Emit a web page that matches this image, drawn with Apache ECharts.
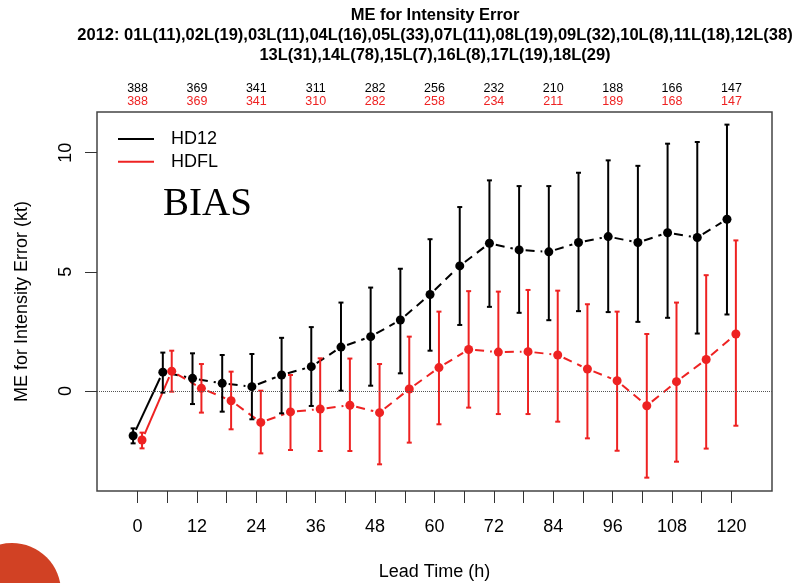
<!DOCTYPE html>
<html>
<head>
<meta charset="utf-8">
<script src="https://cdn.jsdelivr.net/npm/echarts@6/dist/echarts.min.js"></script>
<style>
html,body{margin:0;padding:0;background:#fff;}
#main{width:798px;height:583px;}
</style>
</head>
<body>
<div id="main"></div>
<script>
// lead times (h) for each verification point
var leadTimes = [0, 6, 12, 18, 24, 30, 36, 42, 48, 54, 60, 66, 72, 78, 84, 90, 96, 102, 108, 114, 120];

// HD12 mean error and its bar ends
var hd12Mean = [-1.88, 0.79, 0.53, 0.32, 0.18, 0.67, 1.02, 1.84, 2.28, 2.98, 4.05, 5.25, 6.20, 5.92, 5.84, 6.23, 6.48, 6.23, 6.64, 6.44, 7.21];
var hd12Low  = [-2.20, -0.07, -0.55, -0.87, -1.19, -0.94, -0.63, 0.01, 0.22, 0.74, 1.69, 2.77, 3.53, 3.28, 2.97, 3.35, 3.31, 2.90, 3.07, 2.41, 3.21];
var hd12High = [-1.57, 1.61, 1.58, 1.51, 1.55, 2.23, 2.68, 3.71, 4.34, 5.13, 6.37, 7.72, 8.84, 8.60, 8.60, 9.16, 9.68, 9.45, 10.38, 10.45, 11.18];

// HDFL mean error and its bar ends
var hdflMean = [-2.06, 0.83, 0.11, -0.41, -1.32, -0.88, -0.76, -0.60, -0.91, 0.08, 0.98, 1.74, 1.63, 1.65, 1.51, 0.92, 0.43, -0.62, 0.39, 1.32, 2.39];
var hdflLow  = [-2.41, -0.03, -0.91, -1.61, -2.62, -2.48, -2.52, -2.52, -3.08, -2.17, -1.40, -0.70, -0.97, -0.97, -1.29, -1.99, -2.51, -3.64, -2.97, -2.42, -1.46];
var hdflHigh = [-1.75, 1.69, 1.13, 0.81, 0.01, 0.67, 1.37, 1.36, 1.13, 2.28, 3.33, 4.19, 4.17, 4.24, 4.21, 3.64, 3.33, 2.39, 3.71, 4.86, 6.32];

// sample counts printed above the plot
var countTimes = [0, 12, 24, 36, 48, 60, 72, 84, 96, 108, 120];
var hd12Count = [388, 369, 341, 311, 282, 256, 232, 210, 188, 166, 147];
var hdflCount = [388, 369, 341, 310, 282, 258, 234, 211, 189, 168, 147];

var yTicks = [0, 5, 10];

var BLACK = '#000000';
var RED = '#ee2222';
var FONT = 'Liberation Sans';

function shifted(shift) {
    return leadTimes.map(function (t) { return t + shift; });
}

// error bars: [x, low, high]
function barData(xs, low, high) {
    return xs.map(function (x, i) { return [x, low[i], high[i]]; });
}

// segments between neighbouring points: [x0, y0, x1, y1]
function segData(xs, ys) {
    var out = [];
    for (var i = 0; i < xs.length - 1; i++) {
        out.push([xs[i], ys[i], xs[i + 1], ys[i + 1]]);
    }
    return out;
}

function errBarSeries(name, data, color) {
    return {
        name: name,
        type: 'custom',
        silent: true,
        z: 3,
        renderItem: function (params, api) {
            var a = api.coord([api.value(0), api.value(1)]);
            var b = api.coord([api.value(0), api.value(2)]);
            var w = 2.5;
            var st = { stroke: color, lineWidth: 2 };
            return {
                type: 'group',
                children: [
                    { type: 'line', shape: { x1: a[0], y1: a[1], x2: b[0], y2: b[1] }, style: st },
                    { type: 'line', shape: { x1: a[0] - w, y1: a[1], x2: a[0] + w, y2: a[1] }, style: st },
                    { type: 'line', shape: { x1: b[0] - w, y1: b[1], x2: b[0] + w, y2: b[1] }, style: st }
                ]
            };
        },
        encode: { x: 0, y: [1, 2] },
        data: data
    };
}

// R type="b" style: line pieces that stop short of each point
function connectSeries(name, data, color) {
    return {
        name: name,
        type: 'custom',
        silent: true,
        z: 2,
        renderItem: function (params, api) {
            var a = api.coord([api.value(0), api.value(1)]);
            var b = api.coord([api.value(2), api.value(3)]);
            var dx = b[0] - a[0], dy = b[1] - a[1];
            var len = Math.sqrt(dx * dx + dy * dy);
            var gap = 6.5;
            if (len <= gap * 2) return null;
            var ux = dx / len, uy = dy / len;
            return {
                type: 'line',
                shape: { x1: a[0] + ux * gap, y1: a[1] + uy * gap, x2: b[0] - ux * gap, y2: b[1] - uy * gap },
                style: { stroke: color, lineWidth: 2, lineDash: params.dataIndex === 0 ? null : [9, 6] }
            };
        },
        encode: { x: [0, 2], y: [1, 3] },
        data: data
    };
}

var hd12X = shifted(-0.9);
var hdflX = shifted(0.9);

var myChart = echarts.init(document.getElementById('main'), null, { renderer: 'canvas' });

var option = {
    animation: false,
    backgroundColor: '#ffffff',
    textStyle: { fontFamily: FONT },
    grid: {
        left: 97, right: 26, top: 112, bottom: 92,
        outerBoundsMode: 'none',
        containLabel: false,
        show: true, borderColor: '#444', borderWidth: 1.5,
        backgroundColor: 'transparent'
    },
    legend: {
        orient: 'vertical',
        left: 113, top: 123,
        icon: 'rect',
        itemWidth: 36, itemHeight: 2,
        itemGap: 0.7,
        data: ['HD12', 'HDFL'],
        textStyle: { fontSize: 18, color: '#000', lineHeight: 22, padding: [0, 0, 0, 12], fontFamily: FONT },
        selectedMode: false
    },
    xAxis: [{
        type: 'value',
        min: -8.2, max: 128.2,
        name: 'Lead Time (h)',
        nameLocation: 'middle',
        nameGap: 72,
        nameTextStyle: { fontSize: 18, color: '#000', fontFamily: FONT },
        axisLine: { show: false, onZero: false },
        axisTick: { show: true, length: 12, customValues: leadTimes, lineStyle: { color: '#333', width: 1 } },
        axisLabel: { customValues: countTimes, fontSize: 18, color: '#000', margin: 27, fontFamily: FONT },
        splitLine: { show: false }
    }, {
        type: 'value',
        position: 'top',
        min: -8.2, max: 128.2,
        axisLine: { show: false, onZero: false },
        axisTick: { show: false },
        axisLabel: {
            customValues: countTimes,
            margin: 4,
            formatter: function (v) {
                var i = countTimes.indexOf(v);
                return '{a|' + hd12Count[i] + '}\n{b|' + hdflCount[i] + '}';
            },
            rich: {
                a: { fontSize: 12.5, color: BLACK, lineHeight: 12.7, fontFamily: FONT },
                b: { fontSize: 12.5, color: RED, lineHeight: 12.7, fontFamily: FONT }
            }
        },
        splitLine: { show: false }
    }],
    yAxis: {
        type: 'value',
        min: -4.2, max: 11.71,
        name: 'ME for Intensity Error (kt)',
        nameLocation: 'middle',
        nameGap: 66,
        nameTextStyle: { fontSize: 18, color: '#000', fontFamily: FONT },
        axisLine: { show: false, onZero: false },
        axisTick: { show: true, length: 12, customValues: yTicks, lineStyle: { color: '#333', width: 1 } },
        axisLabel: { customValues: yTicks, rotate: 90, fontSize: 18, color: '#000', margin: 22, fontFamily: FONT },
        splitLine: { show: false }
    },
    graphic: [{
        type: 'text',
        x: 435, y: 5.5,
        style: {
            text: 'ME for Intensity Error\n2012: 01L(11),02L(19),03L(11),04L(16),05L(33),07L(11),08L(19),09L(32),10L(8),11L(18),12L(38)\n13L(31),14L(78),15L(7),16L(8),17L(19),18L(29)',
            font: 'bold 16.5px "Liberation Sans"',
            lineHeight: 20,
            fill: '#000',
            align: 'center',
            verticalAlign: 'top'
        }
    }, {
        type: 'text',
        x: 163, y: 205,
        style: {
            text: 'BIAS',
            font: '39px "Liberation Serif"',
            fill: '#000',
            align: 'left',
            verticalAlign: 'middle'
        }
    }, {
        type: 'circle',
        shape: { cx: 12, cy: 592, r: 49 },
        style: { fill: '#d14124' }
    }],
    series: [
        {
            name: 'zero',
            type: 'line',
            data: [],
            markLine: {
                silent: true,
                symbol: 'none',
                label: { show: false },
                lineStyle: { type: 'dotted', color: '#555', width: 1 },
                data: [{ yAxis: 0 }]
            }
        },
        connectSeries('hd12-line', segData(hd12X, hd12Mean), BLACK),
        connectSeries('hdfl-line', segData(hdflX, hdflMean), RED),
        errBarSeries('hd12-bar', barData(hd12X, hd12Low, hd12High), BLACK),
        errBarSeries('hdfl-bar', barData(hdflX, hdflLow, hdflHigh), RED),
        {
            name: 'HD12',
            type: 'scatter',
            symbol: 'circle',
            symbolSize: 9,
            z: 4,
            itemStyle: { color: BLACK, opacity: 1 },
            data: hd12X.map(function (x, i) { return [x, hd12Mean[i]]; })
        },
        {
            name: 'HDFL',
            type: 'scatter',
            symbol: 'circle',
            symbolSize: 9,
            z: 4,
            itemStyle: { color: RED, opacity: 1 },
            data: hdflX.map(function (x, i) { return [x, hdflMean[i]]; })
        }
    ]
};

myChart.setOption(option);
</script>
</body>
</html>
